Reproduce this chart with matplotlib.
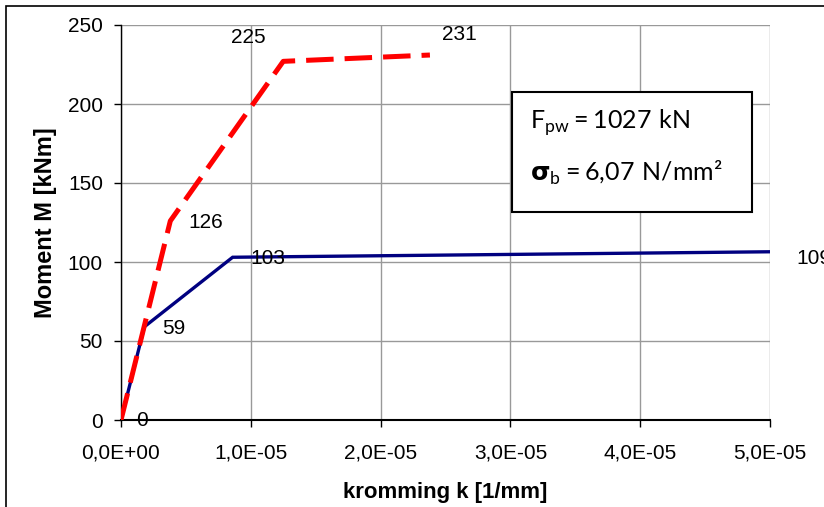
import matplotlib.pyplot as plt
from matplotlib.patches import Rectangle

# data
k_blue = [0.0, 0.18e-5, 0.86e-5, 8.0e-5]
m_blue = [0, 59, 103, 109]
k_red = [0.0, 0.38e-5, 1.25e-5, 2.38e-5]
m_red = [0, 126, 227, 231]

# value labels (text, x, y, offset in pixels)
labels = [
    ("0", 0.0, 0, (21, 0)),
    ("59", 0.18e-5, 59, (29, -2)),
    ("103", 0.86e-5, 103, (35, -1)),
    ("126", 0.38e-5, 126, (35, -2)),
    ("225", 1.25e-5, 227, (-35, 24)),
    ("231", 2.38e-5, 231, (29, 21)),
    ("109", 5.0e-5, 106, (44, -6)),
]

xticks = [0, 1e-5, 2e-5, 3e-5, 4e-5, 5e-5]
xticklabels = ["0,0E+00", "1,0E-05", "2,0E-05", "3,0E-05", "4,0E-05", "5,0E-05"]
yticks = [0, 50, 100, 150, 200, 250]

plt.rcParams['font.family'] = ['Liberation Sans', 'DejaVu Sans']
plt.rcParams['mathtext.fontset'] = 'custom'
plt.rcParams['mathtext.rm'] = 'Lato'
plt.rcParams['mathtext.bf'] = 'DejaVu Sans:bold'

fig = plt.figure(figsize=(8.24, 5.07), dpi=100)
ax = fig.add_axes([121 / 824, 1 - 420 / 507, (770 - 121) / 824, (420 - 25) / 507])

# outer chart border (left and top visible)
fig.patches.append(Rectangle((6 / 824, -0.1), 1.2, 1.1 - 6 / 507, transform=fig.transFigure,
                             fill=False, edgecolor='black', linewidth=1.2))

ax.plot(k_blue, m_blue, color='#000080', linewidth=2.4, solid_joinstyle='miter', zorder=3)
ax.plot(k_red, m_red, color='#ff0000', linewidth=3.6, dashes=(5.5, 2.2), zorder=4)

for txt, x, y, off in labels:
    ax.annotate(txt, (x, y), xytext=off, textcoords='offset pixels', fontsize=15,
                ha='center', va='center', annotation_clip=False, zorder=5)

ax.set_xlim(0, 5e-5)
ax.set_ylim(0, 250)
ax.set_xticks(xticks)
ax.set_xticklabels(xticklabels)
ax.set_yticks(yticks)
ax.tick_params(labelsize=15, direction='out', length=5, width=1, pad=8)
ax.tick_params(axis='x', pad=12)
ax.grid(True, color='#999999', linewidth=1)
ax.set_axisbelow(True)
for s in ['top', 'right']:
    ax.spines[s].set_visible(False)
ax.spines['left'].set_linewidth(1)
ax.spines['bottom'].set_linewidth(1.5)

ax.set_xlabel("kromming k [1/mm]", fontsize=16, fontweight='bold', labelpad=14)
ax.set_ylabel("Moment M [kNm]", fontsize=17, fontweight='bold', labelpad=8)

# parameter box
box = Rectangle((512 / 824, 1 - 212 / 507), 240 / 824, 120 / 507, transform=fig.transFigure,
                facecolor='white', edgecolor='black', linewidth=1.5, zorder=6)
fig.patches.append(box)
fig.text(530 / 824, 1 - 123 / 507, r"F$_{\mathregular{pw}}\mathregular{{=}1027\ kN}$",
         fontsize=18, family='Lato', va='center', ha='left', zorder=7)
fig.text(530 / 824, 1 - 173 / 507, r"$\mathbf{\sigma}_{\mathregular{b}}\mathregular{{=}6{,}07\ N/mm²}$",
         fontsize=18, family='Lato', va='center', ha='left', zorder=7)

fig.savefig("out.png", dpi=100)
